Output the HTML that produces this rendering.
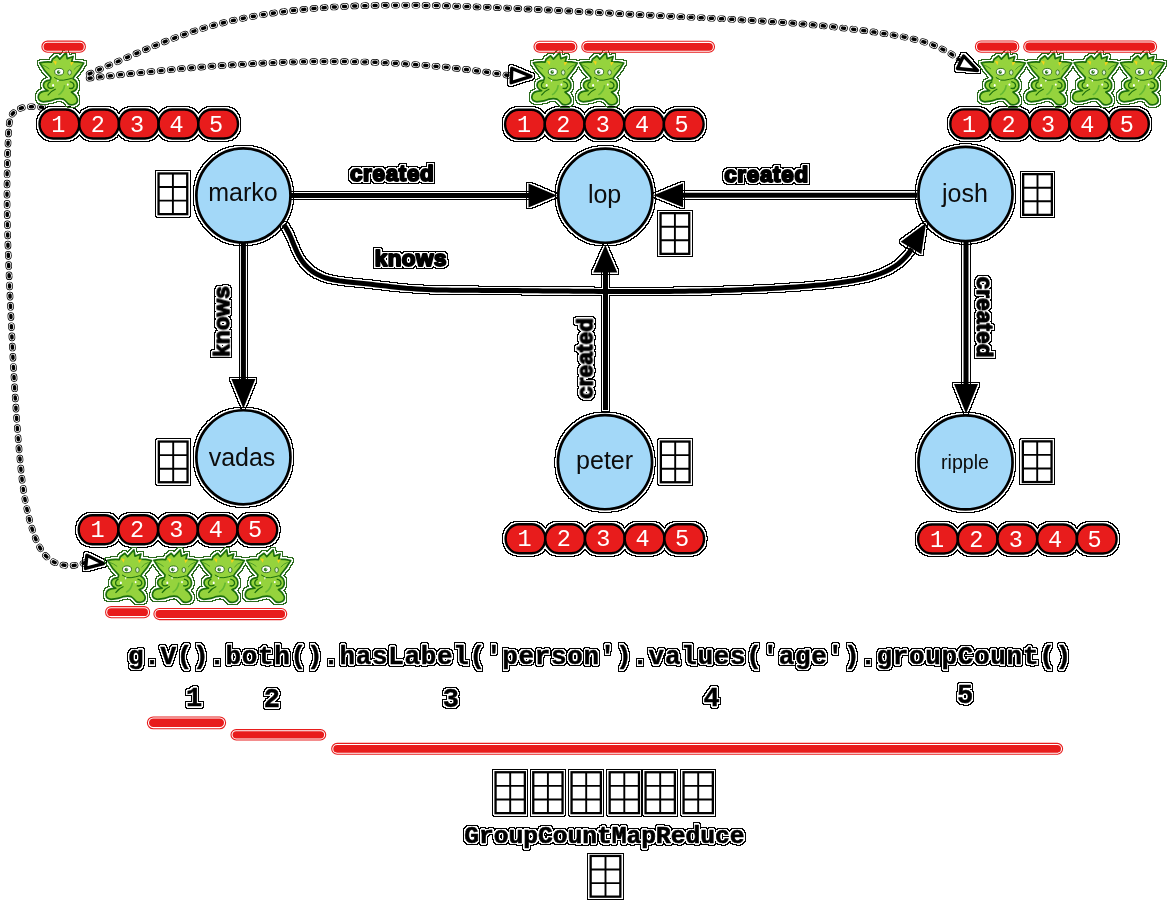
<!DOCTYPE html>
<html><head><meta charset="utf-8"><title>TinkerPop traversal: g.V().both().hasLabel('person').values('age').groupCount()</title>
<style>
html,body{margin:0;padding:0;background:#fff;}
body{width:1167px;height:902px;overflow:hidden;position:relative;}
svg{position:absolute;left:0;top:0;display:block;}
.nl{font-family:"Liberation Sans",sans-serif;fill:#0a0a0a;text-anchor:middle;}
.el{font-family:"Liberation Sans",sans-serif;font-weight:bold;font-size:22.4px;fill:#000;stroke:#000;stroke-width:2px;stroke-linejoin:round;text-anchor:middle;letter-spacing:0.5px;}
.bd text{font-family:"Liberation Mono",monospace;font-size:23.5px;fill:#fff;text-anchor:middle;}
.q{font-family:"Liberation Mono",monospace;font-weight:bold;font-size:26px;letter-spacing:0.67px;fill:#000;stroke:#000;stroke-width:0.5px;stroke-linejoin:round;}
.num{font-family:"Liberation Mono",monospace;font-weight:bold;font-size:27px;fill:#000;stroke:#000;stroke-width:0.5px;stroke-linejoin:round;text-anchor:middle;}
.gc{font-family:"Liberation Mono",monospace;font-weight:bold;font-size:24.6px;fill:#000;stroke:#000;stroke-width:0.7px;stroke-linejoin:round;text-anchor:middle;}
.halo{filter:url(#halo);}
.ghalo{filter:url(#ghalo);}
</style></head>
<body>
<svg width="1167" height="902" viewBox="0 0 1167 902">
<defs>
<filter id="halo" x="0" y="0" width="1167" height="902" filterUnits="userSpaceOnUse">
 <feComponentTransfer in="SourceAlpha" result="thr"><feFuncA type="discrete" tableValues="0 1 1 1"/></feComponentTransfer>
 <feMorphology in="thr" operator="dilate" radius="1" result="d1"/>
 <feMorphology in="thr" operator="dilate" radius="2" result="d2"/>
 <feComposite in="d2" in2="d1" operator="out" result="ring"/>
 <feMerge><feMergeNode in="ring"/><feMergeNode in="SourceGraphic"/></feMerge>
</filter>
<filter id="ghalo" x="0" y="0" width="1167" height="902" filterUnits="userSpaceOnUse">
 <feComponentTransfer in="SourceAlpha" result="thr"><feFuncA type="discrete" tableValues="0 1 1 1"/></feComponentTransfer>
 <feMorphology in="thr" operator="dilate" radius="1" result="d1"/>
 <feMorphology in="thr" operator="dilate" radius="2" result="d2"/>
 <feComposite in="d2" in2="d1" operator="out" result="ring"/>
 <feFlood flood-color="#2a6a1a"/>
 <feComposite in2="ring" operator="in" result="cring"/>
 <feMerge><feMergeNode in="cring"/><feMergeNode in="SourceGraphic"/></feMerge>
</filter>
<symbol id="grem" viewBox="0 0 60 60" overflow="visible">
 <path d="M5.5,15 Q11.5,13.8 17.3,14.3 L18.2,11.5 L22.8,8 L25.6,11.3 L31.9,4.5 L33,10.8 L38.9,8.7 L37.5,13.9 Q44,13.9 49.5,15.2 Q45.5,22.5 40.3,28.2 Q39,29.8 38.9,31 Q42.8,32.8 43.1,37.5 Q43.2,42.5 38.5,43.8 L37.2,44.2 Q41.5,47 43,51 Q44,55 40.3,56.5 Q36,58.2 33.5,55.5 Q31,52.5 29.1,51.3 Q26,50.3 21.5,51.3 Q17,53.6 9,54.1 Q4.2,53.5 4,49.5 Q4.2,44.6 9,43.6 L13.8,42.9 Q9.5,41 9.2,37.5 Q9.3,33 15.9,32.4 Q16.6,31 16.6,29.6 Q9.8,23 5.5,15 Z" fill="#95d33d" stroke="#1c6e0e" stroke-width="1.7" stroke-linejoin="round"/>
 <path d="M7.5,17 Q12,18.5 15.2,21.2" stroke="#4f9e2a" stroke-width="1" fill="none"/>
 <path d="M46.6,17 Q42,18.5 39.6,21.9" stroke="#4f9e2a" stroke-width="1" fill="none"/>
 <path d="M18.8,13 L22.6,13.8 L21.6,17.4 Z" fill="#f2d31b"/>
 <path d="M36,14.4 L39.8,14 L37,18 Z" fill="#f2d31b"/>
 <ellipse cx="25" cy="24" rx="4.5" ry="3.4" fill="#fff" stroke="#2b6a18" stroke-width="0.9"/>
 <circle cx="24.4" cy="24.3" r="1.8" fill="#2f7d1c"/>
 <circle cx="25.1" cy="23.6" r="0.55" fill="#fff"/>
 <ellipse cx="35.4" cy="24.7" rx="1.8" ry="2.6" fill="#d7ecd0" stroke="#2b6a18" stroke-width="0.8"/>
 <path d="M20,29.6 Q25,33.6 29.1,32.4 Q34,31.6 38.2,30.3" stroke="#1c6e0e" stroke-width="1" fill="none"/>
 <path d="M22.8,32 L23.6,34.4 L24.6,32.3 Z" fill="#fff"/>
 <path d="M16.5,33.8 Q12.8,35.5 13.8,39 Q15.8,41.8 19.6,39.6" stroke="#1c6e0e" stroke-width="1.3" fill="none"/>
 <ellipse cx="18.9" cy="37.6" rx="1" ry="1.3" fill="#fff"/>
 <path d="M35.5,33.8 Q40,34.6 39.8,38.4 Q38.6,41.6 34.8,40.4" stroke="#1c6e0e" stroke-width="1.3" fill="none"/>
 <ellipse cx="33.6" cy="36.8" rx="0.9" ry="1.2" fill="#fff"/>
 <path d="M13.5,47.5 Q17,43 21.5,41.2" stroke="#1c6e0e" stroke-width="1.2" fill="none"/>
 <path d="M30.5,37.3 Q29.5,44 24.2,47.1" stroke="#64b833" stroke-width="1.6" fill="none"/>
</symbol>
</defs>
<rect width="1167" height="902" fill="#fff"/>
<g fill="none" stroke-linecap="round" stroke-dasharray="2 8.2"><g stroke="#000" stroke-width="6.6"><path d="M89.2,73.9 L92.9,72.3 L96.6,70.7 L100.3,69.1 L104.0,67.5 L107.7,65.9 L111.4,64.3 L115.1,62.7 L118.8,61.1 L122.4,59.5 L126.1,57.9 L129.8,56.3 L133.5,54.7 L137.2,53.1 L140.9,51.5 L144.6,49.9 L148.3,48.4 L152.1,46.8 L155.8,45.3 L159.5,43.8 L163.3,42.3 L167.0,40.8 L170.8,39.4 L174.5,38.0 L178.3,36.6 L182.1,35.2 L185.9,33.9 L189.7,32.6 L193.5,31.3 L197.4,30.1 L201.2,28.9 L205.1,27.7 L208.9,26.6 L212.8,25.5 L216.7,24.5 L220.6,23.5 L224.5,22.5 L228.4,21.5 L232.3,20.6 L236.3,19.8 L240.2,18.9 L244.1,18.1 L248.1,17.3 L252.1,16.6 L256.0,15.9 L260.0,15.2 L264.0,14.5 L267.9,13.9 L271.9,13.3 L275.9,12.7 L279.9,12.2 L283.9,11.7 L287.9,11.2 L291.9,10.7 L295.9,10.2 L299.9,9.8 L303.9,9.4 L307.9,9.0 L311.9,8.6 L315.9,8.3 L319.9,8.0 L323.9,7.7 L328.0,7.4 L332.0,7.1 L336.0,6.9 L340.0,6.7 L344.0,6.5 L348.1,6.3 L352.1,6.1 L356.1,5.9 L360.1,5.8 L364.2,5.7 L368.2,5.6 L372.2,5.5 L376.2,5.4 L380.3,5.3 L384.3,5.3 L388.3,5.2 L392.3,5.2 L396.4,5.2 L400.4,5.2 L404.4,5.2 L408.4,5.2 L412.5,5.3 L416.5,5.3 L420.5,5.3 L424.5,5.4 L428.6,5.5 L432.6,5.6 L436.6,5.6 L440.6,5.7 L444.7,5.8 L448.7,5.9 L452.7,6.1 L456.7,6.2 L460.8,6.3 L464.8,6.4 L468.8,6.6 L472.8,6.7 L476.9,6.9 L480.9,7.0 L484.9,7.2 L488.9,7.3 L493.0,7.5 L497.0,7.6 L501.0,7.8 L505.0,8.0 L509.0,8.2 L513.1,8.3 L517.1,8.5 L521.1,8.7 L525.1,8.9 L529.2,9.1 L533.2,9.3 L537.2,9.4 L541.2,9.6 L545.2,9.8 L549.3,10.0 L553.3,10.2 L557.3,10.4 L561.3,10.6 L565.4,10.8 L569.4,11.0 L573.4,11.2 L577.4,11.5 L581.4,11.7 L585.5,11.9 L589.5,12.1 L593.5,12.3 L597.5,12.5 L601.5,12.7 L605.6,12.9 L609.6,13.1 L613.6,13.3 L617.6,13.6 L621.6,13.8 L625.7,14.0 L629.7,14.2 L633.7,14.4 L637.7,14.6 L641.7,14.8 L645.8,15.0 L649.8,15.2 L653.8,15.4 L657.8,15.6 L661.9,15.8 L665.9,16.0 L669.9,16.2 L673.9,16.4 L677.9,16.6 L682.0,16.8 L686.0,17.0 L690.0,17.2 L694.0,17.4 L698.0,17.6 L702.1,17.8 L706.1,18.0 L710.1,18.2 L714.1,18.4 L718.2,18.6 L722.2,18.8 L726.2,19.0 L730.2,19.2 L734.2,19.4 L738.3,19.6 L742.3,19.9 L746.3,20.1 L750.3,20.3 L754.3,20.6 L758.4,20.8 L762.4,21.1 L766.4,21.3 L770.4,21.6 L774.4,21.9 L778.4,22.1 L782.5,22.4 L786.5,22.7 L790.5,23.0 L794.5,23.3 L798.5,23.7 L802.5,24.0 L806.5,24.3 L810.6,24.7 L814.6,25.1 L818.6,25.4 L822.6,25.8 L826.6,26.2 L830.6,26.6 L834.6,27.1 L838.6,27.5 L842.6,28.0 L846.6,28.4 L850.6,28.9 L854.6,29.4 L858.6,29.9 L862.6,30.5 L866.6,31.0 L870.6,31.6 L874.5,32.1 L878.5,32.7 L882.5,33.4 L886.5,34.0 L890.4,34.6 L894.4,35.3 L898.4,36.0 L902.3,36.7 L906.3,37.5 L910.2,38.4 L914.1,39.3 L918.0,40.3 L921.9,41.4 L925.8,42.5 L929.6,43.8 L933.4,45.2 L937.1,46.7 L940.8,48.4 L944.4,50.2 L947.9,52.1 L951.4,54.1 L954.7,56.4 L958.0,58.7 L961.2,61.2"/><path d="M89.1,78.2 L93.1,77.8 L97.2,77.3 L101.2,76.8 L105.3,76.4 L109.3,75.9 L113.4,75.5 L117.4,75.1 L121.5,74.6 L125.5,74.2 L129.6,73.8 L133.6,73.3 L137.7,72.9 L141.8,72.5 L145.8,72.1 L149.9,71.7 L153.9,71.3 L158.0,70.9 L162.0,70.5 L166.1,70.1 L170.2,69.7 L174.2,69.4 L178.3,69.0 L182.3,68.6 L186.4,68.3 L190.5,67.9 L194.5,67.6 L198.6,67.3 L202.6,67.0 L206.7,66.6 L210.8,66.3 L214.8,66.0 L218.9,65.7 L223.0,65.5 L227.0,65.2 L231.1,64.9 L235.2,64.7 L239.2,64.4 L243.3,64.2 L247.4,63.9 L251.4,63.7 L255.5,63.5 L259.6,63.3 L263.7,63.1 L267.7,62.9 L271.8,62.7 L275.9,62.6 L280.0,62.4 L284.0,62.3 L288.1,62.2 L292.2,62.0 L296.2,61.9 L300.3,61.8 L304.4,61.8 L308.5,61.7 L312.5,61.6 L316.6,61.6 L320.7,61.5 L324.8,61.5 L328.9,61.5 L332.9,61.5 L337.0,61.5 L341.1,61.5 L345.2,61.6 L349.2,61.6 L353.3,61.7 L357.4,61.8 L361.5,61.9 L365.5,62.0 L369.6,62.1 L373.7,62.3 L377.8,62.4 L381.8,62.6 L385.9,62.8 L390.0,63.0 L394.0,63.2 L398.1,63.4 L402.2,63.7 L406.2,63.9 L410.3,64.2 L414.4,64.5 L418.4,64.8 L422.5,65.1 L426.6,65.4 L430.6,65.8 L434.7,66.2 L438.7,66.5 L442.8,66.9 L446.9,67.3 L450.9,67.8 L455.0,68.2 L459.0,68.7 L463.1,69.1 L467.1,69.6 L471.2,70.1 L475.2,70.6 L479.2,71.2 L483.3,71.7 L487.3,72.3 L491.4,72.8 L495.4,73.4 L499.4,74.0 L503.5,74.6 L507.5,75.3 L511.5,75.9"/><path d="M42.6,107.2 L38.5,107.0 L34.5,106.8 L30.4,106.7 L26.4,107.0 L22.4,107.7 L18.5,109.0 L15.1,111.1 L12.3,114.0 L10.6,117.7 L9.5,121.6 L9.0,125.6 L8.7,129.7 L8.5,133.7 L8.3,137.8 L8.1,141.8 L7.9,145.9 L7.8,150.0 L7.6,154.0 L7.5,158.1 L7.4,162.1 L7.3,166.2 L7.2,170.2 L7.1,174.3 L7.1,178.4 L7.1,182.4 L7.0,186.5 L7.0,190.5 L7.0,194.6 L7.1,198.7 L7.1,202.7 L7.1,206.8 L7.2,210.8 L7.2,214.9 L7.3,218.9 L7.4,223.0 L7.5,227.1 L7.6,231.1 L7.7,235.2 L7.8,239.2 L7.9,243.3 L8.0,247.3 L8.2,251.4 L8.3,255.5 L8.5,259.5 L8.6,263.6 L8.8,267.6 L9.0,271.7 L9.1,275.7 L9.3,279.8 L9.5,283.8 L9.6,287.9 L9.8,292.0 L10.0,296.0 L10.2,300.1 L10.4,304.1 L10.6,308.2 L10.7,312.2 L10.9,316.3 L11.1,320.3 L11.3,324.4 L11.5,328.4 L11.7,332.5 L11.9,336.6 L12.1,340.6 L12.3,344.7 L12.5,348.7 L12.7,352.8 L12.9,356.8 L13.1,360.9 L13.3,364.9 L13.6,369.0 L13.8,373.0 L14.0,377.1 L14.3,381.1 L14.5,385.2 L14.7,389.2 L15.0,393.3 L15.2,397.3 L15.5,401.4 L15.8,405.4 L16.0,409.5 L16.3,413.5 L16.6,417.6 L16.9,421.6 L17.2,425.7 L17.5,429.7 L17.8,433.8 L18.1,437.8 L18.5,441.9 L18.8,445.9 L19.1,450.0 L19.5,454.0 L19.9,458.1 L20.2,462.1 L20.6,466.1 L21.0,470.2 L21.5,474.2 L21.9,478.2 L22.4,482.3 L22.9,486.3 L23.5,490.3 L24.1,494.3 L24.8,498.3 L25.5,502.3 L26.3,506.3 L27.2,510.3 L28.1,514.2 L29.1,518.2 L30.1,522.1 L31.2,526.0 L32.5,529.9 L33.7,533.7 L35.1,537.5 L36.7,541.3 L38.4,544.9 L40.4,548.5 L42.6,551.9 L45.1,555.1 L47.9,558.0 L51.1,560.5 L54.6,562.5 L58.4,564.0 L62.3,565.0 L66.4,565.5 L70.4,565.6 L74.5,565.4 L78.5,564.7 L82.4,563.7 L86.1,562.1"/></g><g stroke="#fff" stroke-width="5.2"><path d="M89.2,73.9 L92.9,72.3 L96.6,70.7 L100.3,69.1 L104.0,67.5 L107.7,65.9 L111.4,64.3 L115.1,62.7 L118.8,61.1 L122.4,59.5 L126.1,57.9 L129.8,56.3 L133.5,54.7 L137.2,53.1 L140.9,51.5 L144.6,49.9 L148.3,48.4 L152.1,46.8 L155.8,45.3 L159.5,43.8 L163.3,42.3 L167.0,40.8 L170.8,39.4 L174.5,38.0 L178.3,36.6 L182.1,35.2 L185.9,33.9 L189.7,32.6 L193.5,31.3 L197.4,30.1 L201.2,28.9 L205.1,27.7 L208.9,26.6 L212.8,25.5 L216.7,24.5 L220.6,23.5 L224.5,22.5 L228.4,21.5 L232.3,20.6 L236.3,19.8 L240.2,18.9 L244.1,18.1 L248.1,17.3 L252.1,16.6 L256.0,15.9 L260.0,15.2 L264.0,14.5 L267.9,13.9 L271.9,13.3 L275.9,12.7 L279.9,12.2 L283.9,11.7 L287.9,11.2 L291.9,10.7 L295.9,10.2 L299.9,9.8 L303.9,9.4 L307.9,9.0 L311.9,8.6 L315.9,8.3 L319.9,8.0 L323.9,7.7 L328.0,7.4 L332.0,7.1 L336.0,6.9 L340.0,6.7 L344.0,6.5 L348.1,6.3 L352.1,6.1 L356.1,5.9 L360.1,5.8 L364.2,5.7 L368.2,5.6 L372.2,5.5 L376.2,5.4 L380.3,5.3 L384.3,5.3 L388.3,5.2 L392.3,5.2 L396.4,5.2 L400.4,5.2 L404.4,5.2 L408.4,5.2 L412.5,5.3 L416.5,5.3 L420.5,5.3 L424.5,5.4 L428.6,5.5 L432.6,5.6 L436.6,5.6 L440.6,5.7 L444.7,5.8 L448.7,5.9 L452.7,6.1 L456.7,6.2 L460.8,6.3 L464.8,6.4 L468.8,6.6 L472.8,6.7 L476.9,6.9 L480.9,7.0 L484.9,7.2 L488.9,7.3 L493.0,7.5 L497.0,7.6 L501.0,7.8 L505.0,8.0 L509.0,8.2 L513.1,8.3 L517.1,8.5 L521.1,8.7 L525.1,8.9 L529.2,9.1 L533.2,9.3 L537.2,9.4 L541.2,9.6 L545.2,9.8 L549.3,10.0 L553.3,10.2 L557.3,10.4 L561.3,10.6 L565.4,10.8 L569.4,11.0 L573.4,11.2 L577.4,11.5 L581.4,11.7 L585.5,11.9 L589.5,12.1 L593.5,12.3 L597.5,12.5 L601.5,12.7 L605.6,12.9 L609.6,13.1 L613.6,13.3 L617.6,13.6 L621.6,13.8 L625.7,14.0 L629.7,14.2 L633.7,14.4 L637.7,14.6 L641.7,14.8 L645.8,15.0 L649.8,15.2 L653.8,15.4 L657.8,15.6 L661.9,15.8 L665.9,16.0 L669.9,16.2 L673.9,16.4 L677.9,16.6 L682.0,16.8 L686.0,17.0 L690.0,17.2 L694.0,17.4 L698.0,17.6 L702.1,17.8 L706.1,18.0 L710.1,18.2 L714.1,18.4 L718.2,18.6 L722.2,18.8 L726.2,19.0 L730.2,19.2 L734.2,19.4 L738.3,19.6 L742.3,19.9 L746.3,20.1 L750.3,20.3 L754.3,20.6 L758.4,20.8 L762.4,21.1 L766.4,21.3 L770.4,21.6 L774.4,21.9 L778.4,22.1 L782.5,22.4 L786.5,22.7 L790.5,23.0 L794.5,23.3 L798.5,23.7 L802.5,24.0 L806.5,24.3 L810.6,24.7 L814.6,25.1 L818.6,25.4 L822.6,25.8 L826.6,26.2 L830.6,26.6 L834.6,27.1 L838.6,27.5 L842.6,28.0 L846.6,28.4 L850.6,28.9 L854.6,29.4 L858.6,29.9 L862.6,30.5 L866.6,31.0 L870.6,31.6 L874.5,32.1 L878.5,32.7 L882.5,33.4 L886.5,34.0 L890.4,34.6 L894.4,35.3 L898.4,36.0 L902.3,36.7 L906.3,37.5 L910.2,38.4 L914.1,39.3 L918.0,40.3 L921.9,41.4 L925.8,42.5 L929.6,43.8 L933.4,45.2 L937.1,46.7 L940.8,48.4 L944.4,50.2 L947.9,52.1 L951.4,54.1 L954.7,56.4 L958.0,58.7 L961.2,61.2"/><path d="M89.1,78.2 L93.1,77.8 L97.2,77.3 L101.2,76.8 L105.3,76.4 L109.3,75.9 L113.4,75.5 L117.4,75.1 L121.5,74.6 L125.5,74.2 L129.6,73.8 L133.6,73.3 L137.7,72.9 L141.8,72.5 L145.8,72.1 L149.9,71.7 L153.9,71.3 L158.0,70.9 L162.0,70.5 L166.1,70.1 L170.2,69.7 L174.2,69.4 L178.3,69.0 L182.3,68.6 L186.4,68.3 L190.5,67.9 L194.5,67.6 L198.6,67.3 L202.6,67.0 L206.7,66.6 L210.8,66.3 L214.8,66.0 L218.9,65.7 L223.0,65.5 L227.0,65.2 L231.1,64.9 L235.2,64.7 L239.2,64.4 L243.3,64.2 L247.4,63.9 L251.4,63.7 L255.5,63.5 L259.6,63.3 L263.7,63.1 L267.7,62.9 L271.8,62.7 L275.9,62.6 L280.0,62.4 L284.0,62.3 L288.1,62.2 L292.2,62.0 L296.2,61.9 L300.3,61.8 L304.4,61.8 L308.5,61.7 L312.5,61.6 L316.6,61.6 L320.7,61.5 L324.8,61.5 L328.9,61.5 L332.9,61.5 L337.0,61.5 L341.1,61.5 L345.2,61.6 L349.2,61.6 L353.3,61.7 L357.4,61.8 L361.5,61.9 L365.5,62.0 L369.6,62.1 L373.7,62.3 L377.8,62.4 L381.8,62.6 L385.9,62.8 L390.0,63.0 L394.0,63.2 L398.1,63.4 L402.2,63.7 L406.2,63.9 L410.3,64.2 L414.4,64.5 L418.4,64.8 L422.5,65.1 L426.6,65.4 L430.6,65.8 L434.7,66.2 L438.7,66.5 L442.8,66.9 L446.9,67.3 L450.9,67.8 L455.0,68.2 L459.0,68.7 L463.1,69.1 L467.1,69.6 L471.2,70.1 L475.2,70.6 L479.2,71.2 L483.3,71.7 L487.3,72.3 L491.4,72.8 L495.4,73.4 L499.4,74.0 L503.5,74.6 L507.5,75.3 L511.5,75.9"/><path d="M42.6,107.2 L38.5,107.0 L34.5,106.8 L30.4,106.7 L26.4,107.0 L22.4,107.7 L18.5,109.0 L15.1,111.1 L12.3,114.0 L10.6,117.7 L9.5,121.6 L9.0,125.6 L8.7,129.7 L8.5,133.7 L8.3,137.8 L8.1,141.8 L7.9,145.9 L7.8,150.0 L7.6,154.0 L7.5,158.1 L7.4,162.1 L7.3,166.2 L7.2,170.2 L7.1,174.3 L7.1,178.4 L7.1,182.4 L7.0,186.5 L7.0,190.5 L7.0,194.6 L7.1,198.7 L7.1,202.7 L7.1,206.8 L7.2,210.8 L7.2,214.9 L7.3,218.9 L7.4,223.0 L7.5,227.1 L7.6,231.1 L7.7,235.2 L7.8,239.2 L7.9,243.3 L8.0,247.3 L8.2,251.4 L8.3,255.5 L8.5,259.5 L8.6,263.6 L8.8,267.6 L9.0,271.7 L9.1,275.7 L9.3,279.8 L9.5,283.8 L9.6,287.9 L9.8,292.0 L10.0,296.0 L10.2,300.1 L10.4,304.1 L10.6,308.2 L10.7,312.2 L10.9,316.3 L11.1,320.3 L11.3,324.4 L11.5,328.4 L11.7,332.5 L11.9,336.6 L12.1,340.6 L12.3,344.7 L12.5,348.7 L12.7,352.8 L12.9,356.8 L13.1,360.9 L13.3,364.9 L13.6,369.0 L13.8,373.0 L14.0,377.1 L14.3,381.1 L14.5,385.2 L14.7,389.2 L15.0,393.3 L15.2,397.3 L15.5,401.4 L15.8,405.4 L16.0,409.5 L16.3,413.5 L16.6,417.6 L16.9,421.6 L17.2,425.7 L17.5,429.7 L17.8,433.8 L18.1,437.8 L18.5,441.9 L18.8,445.9 L19.1,450.0 L19.5,454.0 L19.9,458.1 L20.2,462.1 L20.6,466.1 L21.0,470.2 L21.5,474.2 L21.9,478.2 L22.4,482.3 L22.9,486.3 L23.5,490.3 L24.1,494.3 L24.8,498.3 L25.5,502.3 L26.3,506.3 L27.2,510.3 L28.1,514.2 L29.1,518.2 L30.1,522.1 L31.2,526.0 L32.5,529.9 L33.7,533.7 L35.1,537.5 L36.7,541.3 L38.4,544.9 L40.4,548.5 L42.6,551.9 L45.1,555.1 L47.9,558.0 L51.1,560.5 L54.6,562.5 L58.4,564.0 L62.3,565.0 L66.4,565.5 L70.4,565.6 L74.5,565.4 L78.5,564.7 L82.4,563.7 L86.1,562.1"/></g><g stroke="#000" stroke-width="3.5"><path d="M89.2,73.9 L92.9,72.3 L96.6,70.7 L100.3,69.1 L104.0,67.5 L107.7,65.9 L111.4,64.3 L115.1,62.7 L118.8,61.1 L122.4,59.5 L126.1,57.9 L129.8,56.3 L133.5,54.7 L137.2,53.1 L140.9,51.5 L144.6,49.9 L148.3,48.4 L152.1,46.8 L155.8,45.3 L159.5,43.8 L163.3,42.3 L167.0,40.8 L170.8,39.4 L174.5,38.0 L178.3,36.6 L182.1,35.2 L185.9,33.9 L189.7,32.6 L193.5,31.3 L197.4,30.1 L201.2,28.9 L205.1,27.7 L208.9,26.6 L212.8,25.5 L216.7,24.5 L220.6,23.5 L224.5,22.5 L228.4,21.5 L232.3,20.6 L236.3,19.8 L240.2,18.9 L244.1,18.1 L248.1,17.3 L252.1,16.6 L256.0,15.9 L260.0,15.2 L264.0,14.5 L267.9,13.9 L271.9,13.3 L275.9,12.7 L279.9,12.2 L283.9,11.7 L287.9,11.2 L291.9,10.7 L295.9,10.2 L299.9,9.8 L303.9,9.4 L307.9,9.0 L311.9,8.6 L315.9,8.3 L319.9,8.0 L323.9,7.7 L328.0,7.4 L332.0,7.1 L336.0,6.9 L340.0,6.7 L344.0,6.5 L348.1,6.3 L352.1,6.1 L356.1,5.9 L360.1,5.8 L364.2,5.7 L368.2,5.6 L372.2,5.5 L376.2,5.4 L380.3,5.3 L384.3,5.3 L388.3,5.2 L392.3,5.2 L396.4,5.2 L400.4,5.2 L404.4,5.2 L408.4,5.2 L412.5,5.3 L416.5,5.3 L420.5,5.3 L424.5,5.4 L428.6,5.5 L432.6,5.6 L436.6,5.6 L440.6,5.7 L444.7,5.8 L448.7,5.9 L452.7,6.1 L456.7,6.2 L460.8,6.3 L464.8,6.4 L468.8,6.6 L472.8,6.7 L476.9,6.9 L480.9,7.0 L484.9,7.2 L488.9,7.3 L493.0,7.5 L497.0,7.6 L501.0,7.8 L505.0,8.0 L509.0,8.2 L513.1,8.3 L517.1,8.5 L521.1,8.7 L525.1,8.9 L529.2,9.1 L533.2,9.3 L537.2,9.4 L541.2,9.6 L545.2,9.8 L549.3,10.0 L553.3,10.2 L557.3,10.4 L561.3,10.6 L565.4,10.8 L569.4,11.0 L573.4,11.2 L577.4,11.5 L581.4,11.7 L585.5,11.9 L589.5,12.1 L593.5,12.3 L597.5,12.5 L601.5,12.7 L605.6,12.9 L609.6,13.1 L613.6,13.3 L617.6,13.6 L621.6,13.8 L625.7,14.0 L629.7,14.2 L633.7,14.4 L637.7,14.6 L641.7,14.8 L645.8,15.0 L649.8,15.2 L653.8,15.4 L657.8,15.6 L661.9,15.8 L665.9,16.0 L669.9,16.2 L673.9,16.4 L677.9,16.6 L682.0,16.8 L686.0,17.0 L690.0,17.2 L694.0,17.4 L698.0,17.6 L702.1,17.8 L706.1,18.0 L710.1,18.2 L714.1,18.4 L718.2,18.6 L722.2,18.8 L726.2,19.0 L730.2,19.2 L734.2,19.4 L738.3,19.6 L742.3,19.9 L746.3,20.1 L750.3,20.3 L754.3,20.6 L758.4,20.8 L762.4,21.1 L766.4,21.3 L770.4,21.6 L774.4,21.9 L778.4,22.1 L782.5,22.4 L786.5,22.7 L790.5,23.0 L794.5,23.3 L798.5,23.7 L802.5,24.0 L806.5,24.3 L810.6,24.7 L814.6,25.1 L818.6,25.4 L822.6,25.8 L826.6,26.2 L830.6,26.6 L834.6,27.1 L838.6,27.5 L842.6,28.0 L846.6,28.4 L850.6,28.9 L854.6,29.4 L858.6,29.9 L862.6,30.5 L866.6,31.0 L870.6,31.6 L874.5,32.1 L878.5,32.7 L882.5,33.4 L886.5,34.0 L890.4,34.6 L894.4,35.3 L898.4,36.0 L902.3,36.7 L906.3,37.5 L910.2,38.4 L914.1,39.3 L918.0,40.3 L921.9,41.4 L925.8,42.5 L929.6,43.8 L933.4,45.2 L937.1,46.7 L940.8,48.4 L944.4,50.2 L947.9,52.1 L951.4,54.1 L954.7,56.4 L958.0,58.7 L961.2,61.2"/><path d="M89.1,78.2 L93.1,77.8 L97.2,77.3 L101.2,76.8 L105.3,76.4 L109.3,75.9 L113.4,75.5 L117.4,75.1 L121.5,74.6 L125.5,74.2 L129.6,73.8 L133.6,73.3 L137.7,72.9 L141.8,72.5 L145.8,72.1 L149.9,71.7 L153.9,71.3 L158.0,70.9 L162.0,70.5 L166.1,70.1 L170.2,69.7 L174.2,69.4 L178.3,69.0 L182.3,68.6 L186.4,68.3 L190.5,67.9 L194.5,67.6 L198.6,67.3 L202.6,67.0 L206.7,66.6 L210.8,66.3 L214.8,66.0 L218.9,65.7 L223.0,65.5 L227.0,65.2 L231.1,64.9 L235.2,64.7 L239.2,64.4 L243.3,64.2 L247.4,63.9 L251.4,63.7 L255.5,63.5 L259.6,63.3 L263.7,63.1 L267.7,62.9 L271.8,62.7 L275.9,62.6 L280.0,62.4 L284.0,62.3 L288.1,62.2 L292.2,62.0 L296.2,61.9 L300.3,61.8 L304.4,61.8 L308.5,61.7 L312.5,61.6 L316.6,61.6 L320.7,61.5 L324.8,61.5 L328.9,61.5 L332.9,61.5 L337.0,61.5 L341.1,61.5 L345.2,61.6 L349.2,61.6 L353.3,61.7 L357.4,61.8 L361.5,61.9 L365.5,62.0 L369.6,62.1 L373.7,62.3 L377.8,62.4 L381.8,62.6 L385.9,62.8 L390.0,63.0 L394.0,63.2 L398.1,63.4 L402.2,63.7 L406.2,63.9 L410.3,64.2 L414.4,64.5 L418.4,64.8 L422.5,65.1 L426.6,65.4 L430.6,65.8 L434.7,66.2 L438.7,66.5 L442.8,66.9 L446.9,67.3 L450.9,67.8 L455.0,68.2 L459.0,68.7 L463.1,69.1 L467.1,69.6 L471.2,70.1 L475.2,70.6 L479.2,71.2 L483.3,71.7 L487.3,72.3 L491.4,72.8 L495.4,73.4 L499.4,74.0 L503.5,74.6 L507.5,75.3 L511.5,75.9"/><path d="M42.6,107.2 L38.5,107.0 L34.5,106.8 L30.4,106.7 L26.4,107.0 L22.4,107.7 L18.5,109.0 L15.1,111.1 L12.3,114.0 L10.6,117.7 L9.5,121.6 L9.0,125.6 L8.7,129.7 L8.5,133.7 L8.3,137.8 L8.1,141.8 L7.9,145.9 L7.8,150.0 L7.6,154.0 L7.5,158.1 L7.4,162.1 L7.3,166.2 L7.2,170.2 L7.1,174.3 L7.1,178.4 L7.1,182.4 L7.0,186.5 L7.0,190.5 L7.0,194.6 L7.1,198.7 L7.1,202.7 L7.1,206.8 L7.2,210.8 L7.2,214.9 L7.3,218.9 L7.4,223.0 L7.5,227.1 L7.6,231.1 L7.7,235.2 L7.8,239.2 L7.9,243.3 L8.0,247.3 L8.2,251.4 L8.3,255.5 L8.5,259.5 L8.6,263.6 L8.8,267.6 L9.0,271.7 L9.1,275.7 L9.3,279.8 L9.5,283.8 L9.6,287.9 L9.8,292.0 L10.0,296.0 L10.2,300.1 L10.4,304.1 L10.6,308.2 L10.7,312.2 L10.9,316.3 L11.1,320.3 L11.3,324.4 L11.5,328.4 L11.7,332.5 L11.9,336.6 L12.1,340.6 L12.3,344.7 L12.5,348.7 L12.7,352.8 L12.9,356.8 L13.1,360.9 L13.3,364.9 L13.6,369.0 L13.8,373.0 L14.0,377.1 L14.3,381.1 L14.5,385.2 L14.7,389.2 L15.0,393.3 L15.2,397.3 L15.5,401.4 L15.8,405.4 L16.0,409.5 L16.3,413.5 L16.6,417.6 L16.9,421.6 L17.2,425.7 L17.5,429.7 L17.8,433.8 L18.1,437.8 L18.5,441.9 L18.8,445.9 L19.1,450.0 L19.5,454.0 L19.9,458.1 L20.2,462.1 L20.6,466.1 L21.0,470.2 L21.5,474.2 L21.9,478.2 L22.4,482.3 L22.9,486.3 L23.5,490.3 L24.1,494.3 L24.8,498.3 L25.5,502.3 L26.3,506.3 L27.2,510.3 L28.1,514.2 L29.1,518.2 L30.1,522.1 L31.2,526.0 L32.5,529.9 L33.7,533.7 L35.1,537.5 L36.7,541.3 L38.4,544.9 L40.4,548.5 L42.6,551.9 L45.1,555.1 L47.9,558.0 L51.1,560.5 L54.6,562.5 L58.4,564.0 L62.3,565.0 L66.4,565.5 L70.4,565.6 L74.5,565.4 L78.5,564.7 L82.4,563.7 L86.1,562.1"/></g></g>
<g fill="#fff" stroke="#000" stroke-width="3.4" stroke-linejoin="round" class="halo"><polygon points="531,76.3 511.2,82.69 511.8,68.31"/><polygon points="977.5,70.5 957.43,68.49 963.57,55.91"/><polygon points="103.5,563.6 85.55,568.47 86.85,555.33"/></g>
<g stroke="#000" stroke-width="5" fill="none" class="halo"><path d="M291,195.5H530M917,195.3H682M243.4,243V381M605.5,410V271M966,242V386"/><path d="M283.7,224.5 L286.5,228.7 L288.9,233.2 L291.0,237.8 L292.9,242.5 L294.8,247.1 L296.9,251.8 L299.2,256.3 L301.8,260.6 L304.9,264.6 L308.5,268.2 L312.4,271.4 L316.6,274.1 L321.2,276.3 L326.0,278.0 L330.9,279.3 L335.8,280.3 L340.8,281.1 L345.9,281.7 L350.9,282.3 L355.9,282.8 L361.0,283.3 L366.0,283.8 L371.1,284.3 L376.1,284.9 L381.1,285.5 L386.1,286.1 L391.2,286.7 L396.2,287.3 L401.2,287.8 L406.3,288.3 L411.3,288.6 L416.4,289.0 L421.4,289.3 L426.5,289.5 L431.6,289.7 L436.6,289.9 L441.7,290.0 L446.7,290.1 L451.8,290.2 L456.9,290.2 L461.9,290.3 L467.0,290.3 L472.1,290.3 L477.1,290.3 L482.2,290.4 L487.2,290.4 L492.3,290.4 L497.4,290.4 L502.4,290.5 L507.5,290.5 L512.6,290.6 L517.6,290.6 L522.7,290.7 L527.8,290.7 L532.8,290.8 L537.9,290.8 L542.9,290.9 L548.0,290.9 L553.1,291.0 L558.1,291.0 L563.2,291.1 L568.3,291.1 L573.3,291.2 L578.4,291.2 L583.5,291.2 L588.5,291.3 L593.6,291.3 L598.6,291.4 L603.7,291.4 L608.8,291.4 L613.8,291.4 L618.9,291.5 L624.0,291.5 L629.0,291.5 L634.1,291.5 L639.2,291.5 L644.2,291.5 L649.3,291.5 L654.4,291.5 L659.4,291.4 L664.5,291.4 L669.5,291.4 L674.6,291.3 L679.7,291.3 L684.7,291.2 L689.8,291.1 L694.9,291.0 L699.9,291.0 L705.0,290.8 L710.0,290.7 L715.1,290.6 L720.2,290.5 L725.2,290.3 L730.3,290.2 L735.4,290.0 L740.4,289.8 L745.5,289.6 L750.5,289.4 L755.6,289.2 L760.7,289.0 L765.7,288.7 L770.8,288.4 L775.8,288.2 L780.9,287.9 L785.9,287.6 L791.0,287.2 L796.0,286.9 L801.1,286.5 L806.1,286.2 L811.2,285.8 L816.2,285.3 L821.3,284.9 L826.3,284.4 L831.3,283.8 L836.4,283.2 L841.4,282.5 L846.4,281.8 L851.4,281.0 L856.4,280.1 L861.4,279.1 L866.3,278.0 L871.2,276.7 L876.0,275.2 L880.8,273.5 L885.5,271.5 L890.0,269.2 L894.3,266.7 L898.5,263.7 L902.3,260.4 L905.8,256.8 L909.0,252.9 L911.9,248.7"/></g>
<g fill="#000" class="halo"><polygon points="557,195.5 528.5,207.5 528.5,183.5"/><polygon points="653.5,195.3 683,183.3 683,207.3"/><polygon points="243.4,408.5 231.4,379 255.4,379"/><polygon points="605.3,245 617.3,272.6 593.3,272.6"/><polygon points="966,413.5 954,384 978,384"/><polygon points="926,223 921.29,254.17 900.71,241.83"/></g>
<g class="halo"><circle cx="243.4" cy="195.5" r="47.05" fill="#a3d8f8" stroke="#000" stroke-width="2.7"/><text x="243" y="201.2" class="nl" style="font-size:25px">marko</text><circle cx="605.3" cy="195.7" r="47.05" fill="#a3d8f8" stroke="#000" stroke-width="2.7"/><text x="604.6" y="203" class="nl" style="font-size:25px">lop</text><circle cx="965.5" cy="194" r="47.05" fill="#a3d8f8" stroke="#000" stroke-width="2.7"/><text x="965" y="201.8" class="nl" style="font-size:25px">josh</text><circle cx="243.4" cy="457.3" r="47.05" fill="#a3d8f8" stroke="#000" stroke-width="2.7"/><text x="242" y="465.8" class="nl" style="font-size:25px">vadas</text><circle cx="605" cy="462.2" r="47.05" fill="#a3d8f8" stroke="#000" stroke-width="2.7"/><text x="604.6" y="469.1" class="nl" style="font-size:25px">peter</text><circle cx="965.5" cy="462.4" r="47.05" fill="#a3d8f8" stroke="#000" stroke-width="2.7"/><text x="965" y="469.1" class="nl" style="font-size:19.6px">ripple</text></g>
<g class="halo"><rect x="158.55" y="173.45" width="28.7" height="40.7" fill="#fff" stroke="#000" stroke-width="2.3"/><path d="M172.9,173.45V214.15M158.55,187.02H187.25M158.55,200.58H187.25" stroke="#000" stroke-width="1.9" fill="none"/><rect x="660.55" y="213.15" width="28.7" height="40.7" fill="#fff" stroke="#000" stroke-width="2.3"/><path d="M674.9,213.15V253.85M660.55,226.72H689.25M660.55,240.28H689.25" stroke="#000" stroke-width="1.9" fill="none"/><rect x="1023.15" y="174.15" width="28.7" height="40.7" fill="#fff" stroke="#000" stroke-width="2.3"/><path d="M1037.5,174.15V214.85M1023.15,187.72H1051.85M1023.15,201.28H1051.85" stroke="#000" stroke-width="1.9" fill="none"/><rect x="158.85" y="441.55" width="28.7" height="40.7" fill="#fff" stroke="#000" stroke-width="2.3"/><path d="M173.2,441.55V482.25M158.85,455.12H187.55M158.85,468.68H187.55" stroke="#000" stroke-width="1.9" fill="none"/><rect x="660.85" y="441.55" width="28.7" height="40.7" fill="#fff" stroke="#000" stroke-width="2.3"/><path d="M675.2,441.55V482.25M660.85,455.12H689.55M660.85,468.68H689.55" stroke="#000" stroke-width="1.9" fill="none"/><rect x="1022.85" y="441.35" width="28.7" height="40.7" fill="#fff" stroke="#000" stroke-width="2.3"/><path d="M1037.2,441.35V482.05M1022.85,454.92H1051.55M1022.85,468.48H1051.55" stroke="#000" stroke-width="1.9" fill="none"/></g>
<g class="halo"><text x="392.2" y="181.3" class="el" style="letter-spacing:0.7px">created</text><text x="766.5" y="181.8" class="el" style="letter-spacing:0.7px">created</text><text x="410.8" y="266.2" class="el">knows</text><text class="el" style="stroke-width:1.3px;letter-spacing:0.3px" transform="translate(229.2,321.4) rotate(-90)">knows</text><text class="el" style="stroke-width:1.3px;letter-spacing:0.2px" transform="translate(592.4,358.4) rotate(-90)">created</text><text class="el" style="stroke-width:1.3px;letter-spacing:0.2px" transform="translate(977,317.2) rotate(90)">created</text></g>
<g class="halo"><g fill="#e81c1c" stroke="#000" stroke-width="2.4"><rect x="39.5" y="109.5" width="39.7" height="29" rx="13.5" ry="14.5"/><rect x="79.2" y="109.5" width="39.7" height="29" rx="13.5" ry="14.5"/><rect x="118.9" y="109.5" width="39.7" height="29" rx="13.5" ry="14.5"/><rect x="158.6" y="109.5" width="39.7" height="29" rx="13.5" ry="14.5"/><rect x="198.3" y="109.5" width="39.7" height="29" rx="13.5" ry="14.5"/></g><g class="bd"><text x="58.35" y="131.6">1</text><text x="97.75" y="131.6">2</text><text x="137.15" y="131.6">3</text><text x="176.55" y="131.6">4</text><text x="215.95" y="131.6">5</text></g><g fill="#e81c1c" stroke="#000" stroke-width="2.4"><rect x="505.1" y="109.8" width="39.7" height="29" rx="13.5" ry="14.5"/><rect x="544.8" y="109.8" width="39.7" height="29" rx="13.5" ry="14.5"/><rect x="584.5" y="109.8" width="39.7" height="29" rx="13.5" ry="14.5"/><rect x="624.2" y="109.8" width="39.7" height="29" rx="13.5" ry="14.5"/><rect x="663.9" y="109.8" width="39.7" height="29" rx="13.5" ry="14.5"/></g><g class="bd"><text x="523.95" y="131.9">1</text><text x="563.35" y="131.9">2</text><text x="602.75" y="131.9">3</text><text x="642.15" y="131.9">4</text><text x="681.55" y="131.9">5</text></g><g fill="#e81c1c" stroke="#000" stroke-width="2.4"><rect x="950.3" y="109.4" width="39.7" height="29" rx="13.5" ry="14.5"/><rect x="990" y="109.4" width="39.7" height="29" rx="13.5" ry="14.5"/><rect x="1029.7" y="109.4" width="39.7" height="29" rx="13.5" ry="14.5"/><rect x="1069.4" y="109.4" width="39.7" height="29" rx="13.5" ry="14.5"/><rect x="1109.1" y="109.4" width="39.7" height="29" rx="13.5" ry="14.5"/></g><g class="bd"><text x="969.15" y="131.5">1</text><text x="1008.55" y="131.5">2</text><text x="1047.95" y="131.5">3</text><text x="1087.35" y="131.5">4</text><text x="1126.75" y="131.5">5</text></g><g fill="#e81c1c" stroke="#000" stroke-width="2.4"><rect x="78.7" y="515.3" width="39.7" height="29" rx="13.5" ry="14.5"/><rect x="118.4" y="515.3" width="39.7" height="29" rx="13.5" ry="14.5"/><rect x="158.1" y="515.3" width="39.7" height="29" rx="13.5" ry="14.5"/><rect x="197.8" y="515.3" width="39.7" height="29" rx="13.5" ry="14.5"/><rect x="237.5" y="515.3" width="39.7" height="29" rx="13.5" ry="14.5"/></g><g class="bd"><text x="97.55" y="537.4">1</text><text x="136.95" y="537.4">2</text><text x="176.35" y="537.4">3</text><text x="215.75" y="537.4">4</text><text x="255.15" y="537.4">5</text></g><g fill="#e81c1c" stroke="#000" stroke-width="2.4"><rect x="505.6" y="524.3" width="39.7" height="29" rx="13.5" ry="14.5"/><rect x="545.3" y="524.3" width="39.7" height="29" rx="13.5" ry="14.5"/><rect x="585" y="524.3" width="39.7" height="29" rx="13.5" ry="14.5"/><rect x="624.7" y="524.3" width="39.7" height="29" rx="13.5" ry="14.5"/><rect x="664.4" y="524.3" width="39.7" height="29" rx="13.5" ry="14.5"/></g><g class="bd"><text x="524.45" y="546.4">1</text><text x="563.85" y="546.4">2</text><text x="603.25" y="546.4">3</text><text x="642.65" y="546.4">4</text><text x="682.05" y="546.4">5</text></g><g fill="#e81c1c" stroke="#000" stroke-width="2.4"><rect x="918.1" y="524.5" width="39.7" height="29" rx="13.5" ry="14.5"/><rect x="957.8" y="524.5" width="39.7" height="29" rx="13.5" ry="14.5"/><rect x="997.5" y="524.5" width="39.7" height="29" rx="13.5" ry="14.5"/><rect x="1037.2" y="524.5" width="39.7" height="29" rx="13.5" ry="14.5"/><rect x="1076.9" y="524.5" width="39.7" height="29" rx="13.5" ry="14.5"/></g><g class="bd"><text x="936.95" y="546.6">1</text><text x="976.35" y="546.6">2</text><text x="1015.75" y="546.6">3</text><text x="1055.15" y="546.6">4</text><text x="1094.55" y="546.6">5</text></g></g>
<g class="ghalo"><use href="#grem" x="34.2" y="47.8" width="60" height="60"/><use href="#grem" x="527.8" y="47.8" width="60" height="60"/><use href="#grem" x="574.2" y="47.8" width="60" height="60"/><use href="#grem" x="975.8" y="47.8" width="60" height="60"/><use href="#grem" x="1022.2" y="47.8" width="60" height="60"/><use href="#grem" x="1068.6" y="47.8" width="60" height="60"/><use href="#grem" x="1115" y="47.8" width="60" height="60"/><use href="#grem" x="102" y="545.3" width="60" height="60"/><use href="#grem" x="148.4" y="545.3" width="60" height="60"/><use href="#grem" x="194.8" y="545.3" width="60" height="60"/><use href="#grem" x="241.2" y="545.3" width="60" height="60"/></g>
<g><rect x="43.5" y="42.7" width="40.3" height="8" rx="4" fill="#e81c1c"/><rect x="41.9" y="41.1" width="43.5" height="11.2" rx="5.6" fill="none" stroke="#e81c1c" stroke-width="1.1"/><rect x="535.6" y="42.9" width="39.7" height="7.8" rx="3.9" fill="#e81c1c"/><rect x="534" y="41.3" width="42.9" height="11" rx="5.5" fill="none" stroke="#e81c1c" stroke-width="1.1"/><rect x="583.4" y="42.9" width="129.5" height="7.8" rx="3.9" fill="#e81c1c"/><rect x="581.8" y="41.3" width="132.7" height="11" rx="5.5" fill="none" stroke="#e81c1c" stroke-width="1.1"/><rect x="977" y="42.6" width="40.2" height="8.1" rx="4.05" fill="#e81c1c"/><rect x="975.4" y="41" width="43.4" height="11.3" rx="5.65" fill="none" stroke="#e81c1c" stroke-width="1.1"/><rect x="1025.3" y="42.6" width="129.7" height="8.1" rx="4.05" fill="#e81c1c"/><rect x="1023.7" y="41" width="132.9" height="11.3" rx="5.65" fill="none" stroke="#e81c1c" stroke-width="1.1"/><rect x="107.2" y="608.2" width="40.8" height="7.9" rx="3.95" fill="#e81c1c"/><rect x="105.6" y="606.6" width="44" height="11.1" rx="5.55" fill="none" stroke="#e81c1c" stroke-width="1.1"/><rect x="155.5" y="610.1" width="129.6" height="7.9" rx="3.95" fill="#e81c1c"/><rect x="153.9" y="608.5" width="132.8" height="11.1" rx="5.55" fill="none" stroke="#e81c1c" stroke-width="1.1"/><rect x="149" y="718.6" width="75" height="8.5" rx="4.25" fill="#e81c1c"/><rect x="147.4" y="717" width="78.2" height="11.7" rx="5.85" fill="none" stroke="#e81c1c" stroke-width="1.1"/><rect x="232.6" y="731.2" width="91.5" height="7.2" rx="3.6" fill="#e81c1c"/><rect x="231" y="729.6" width="94.7" height="10.4" rx="5.2" fill="none" stroke="#e81c1c" stroke-width="1.1"/><rect x="333.3" y="745" width="727.7" height="7.7" rx="3.85" fill="#e81c1c"/><rect x="331.7" y="743.4" width="730.9" height="10.9" rx="5.45" fill="none" stroke="#e81c1c" stroke-width="1.1"/></g>
<g class="halo"><text x="127.9" y="664.2" class="q">g.V().both().hasLabel('person').values('age').groupCount()</text><text x="194" y="705.8" class="num">1</text><text x="271.9" y="707.3" class="num">2</text><text x="450.9" y="706.8" class="num">3</text><text x="711.6" y="705.5" class="num">4</text><text x="965.2" y="703" class="num">5</text><text x="604.4" y="842.5" class="gc">GroupCountMapReduce</text></g>
<g class="halo"><rect x="495.55" y="772.25" width="29.3" height="40.9" fill="#fff" stroke="#000" stroke-width="2.3"/><path d="M510.2,772.25V813.15M495.55,785.88H524.85M495.55,799.52H524.85" stroke="#000" stroke-width="1.9" fill="none"/><rect x="533.25" y="772.25" width="29.3" height="40.9" fill="#fff" stroke="#000" stroke-width="2.3"/><path d="M547.9,772.25V813.15M533.25,785.88H562.55M533.25,799.52H562.55" stroke="#000" stroke-width="1.9" fill="none"/><rect x="571.55" y="772.25" width="29.3" height="40.9" fill="#fff" stroke="#000" stroke-width="2.3"/><path d="M586.2,772.25V813.15M571.55,785.88H600.85M571.55,799.52H600.85" stroke="#000" stroke-width="1.9" fill="none"/><rect x="609.65" y="772.25" width="29.3" height="40.9" fill="#fff" stroke="#000" stroke-width="2.3"/><path d="M624.3,772.25V813.15M609.65,785.88H638.95M609.65,799.52H638.95" stroke="#000" stroke-width="1.9" fill="none"/><rect x="645.55" y="772.25" width="29.3" height="40.9" fill="#fff" stroke="#000" stroke-width="2.3"/><path d="M660.2,772.25V813.15M645.55,785.88H674.85M645.55,799.52H674.85" stroke="#000" stroke-width="1.9" fill="none"/><rect x="683.55" y="772.25" width="29.3" height="40.9" fill="#fff" stroke="#000" stroke-width="2.3"/><path d="M698.2,772.25V813.15M683.55,785.88H712.85M683.55,799.52H712.85" stroke="#000" stroke-width="1.9" fill="none"/><rect x="590.65" y="855.95" width="29.7" height="40.7" fill="#fff" stroke="#000" stroke-width="2.3"/><path d="M605.5,855.95V896.65M590.65,869.52H620.35M590.65,883.08H620.35" stroke="#000" stroke-width="1.9" fill="none"/></g>
</svg>
</body></html>
